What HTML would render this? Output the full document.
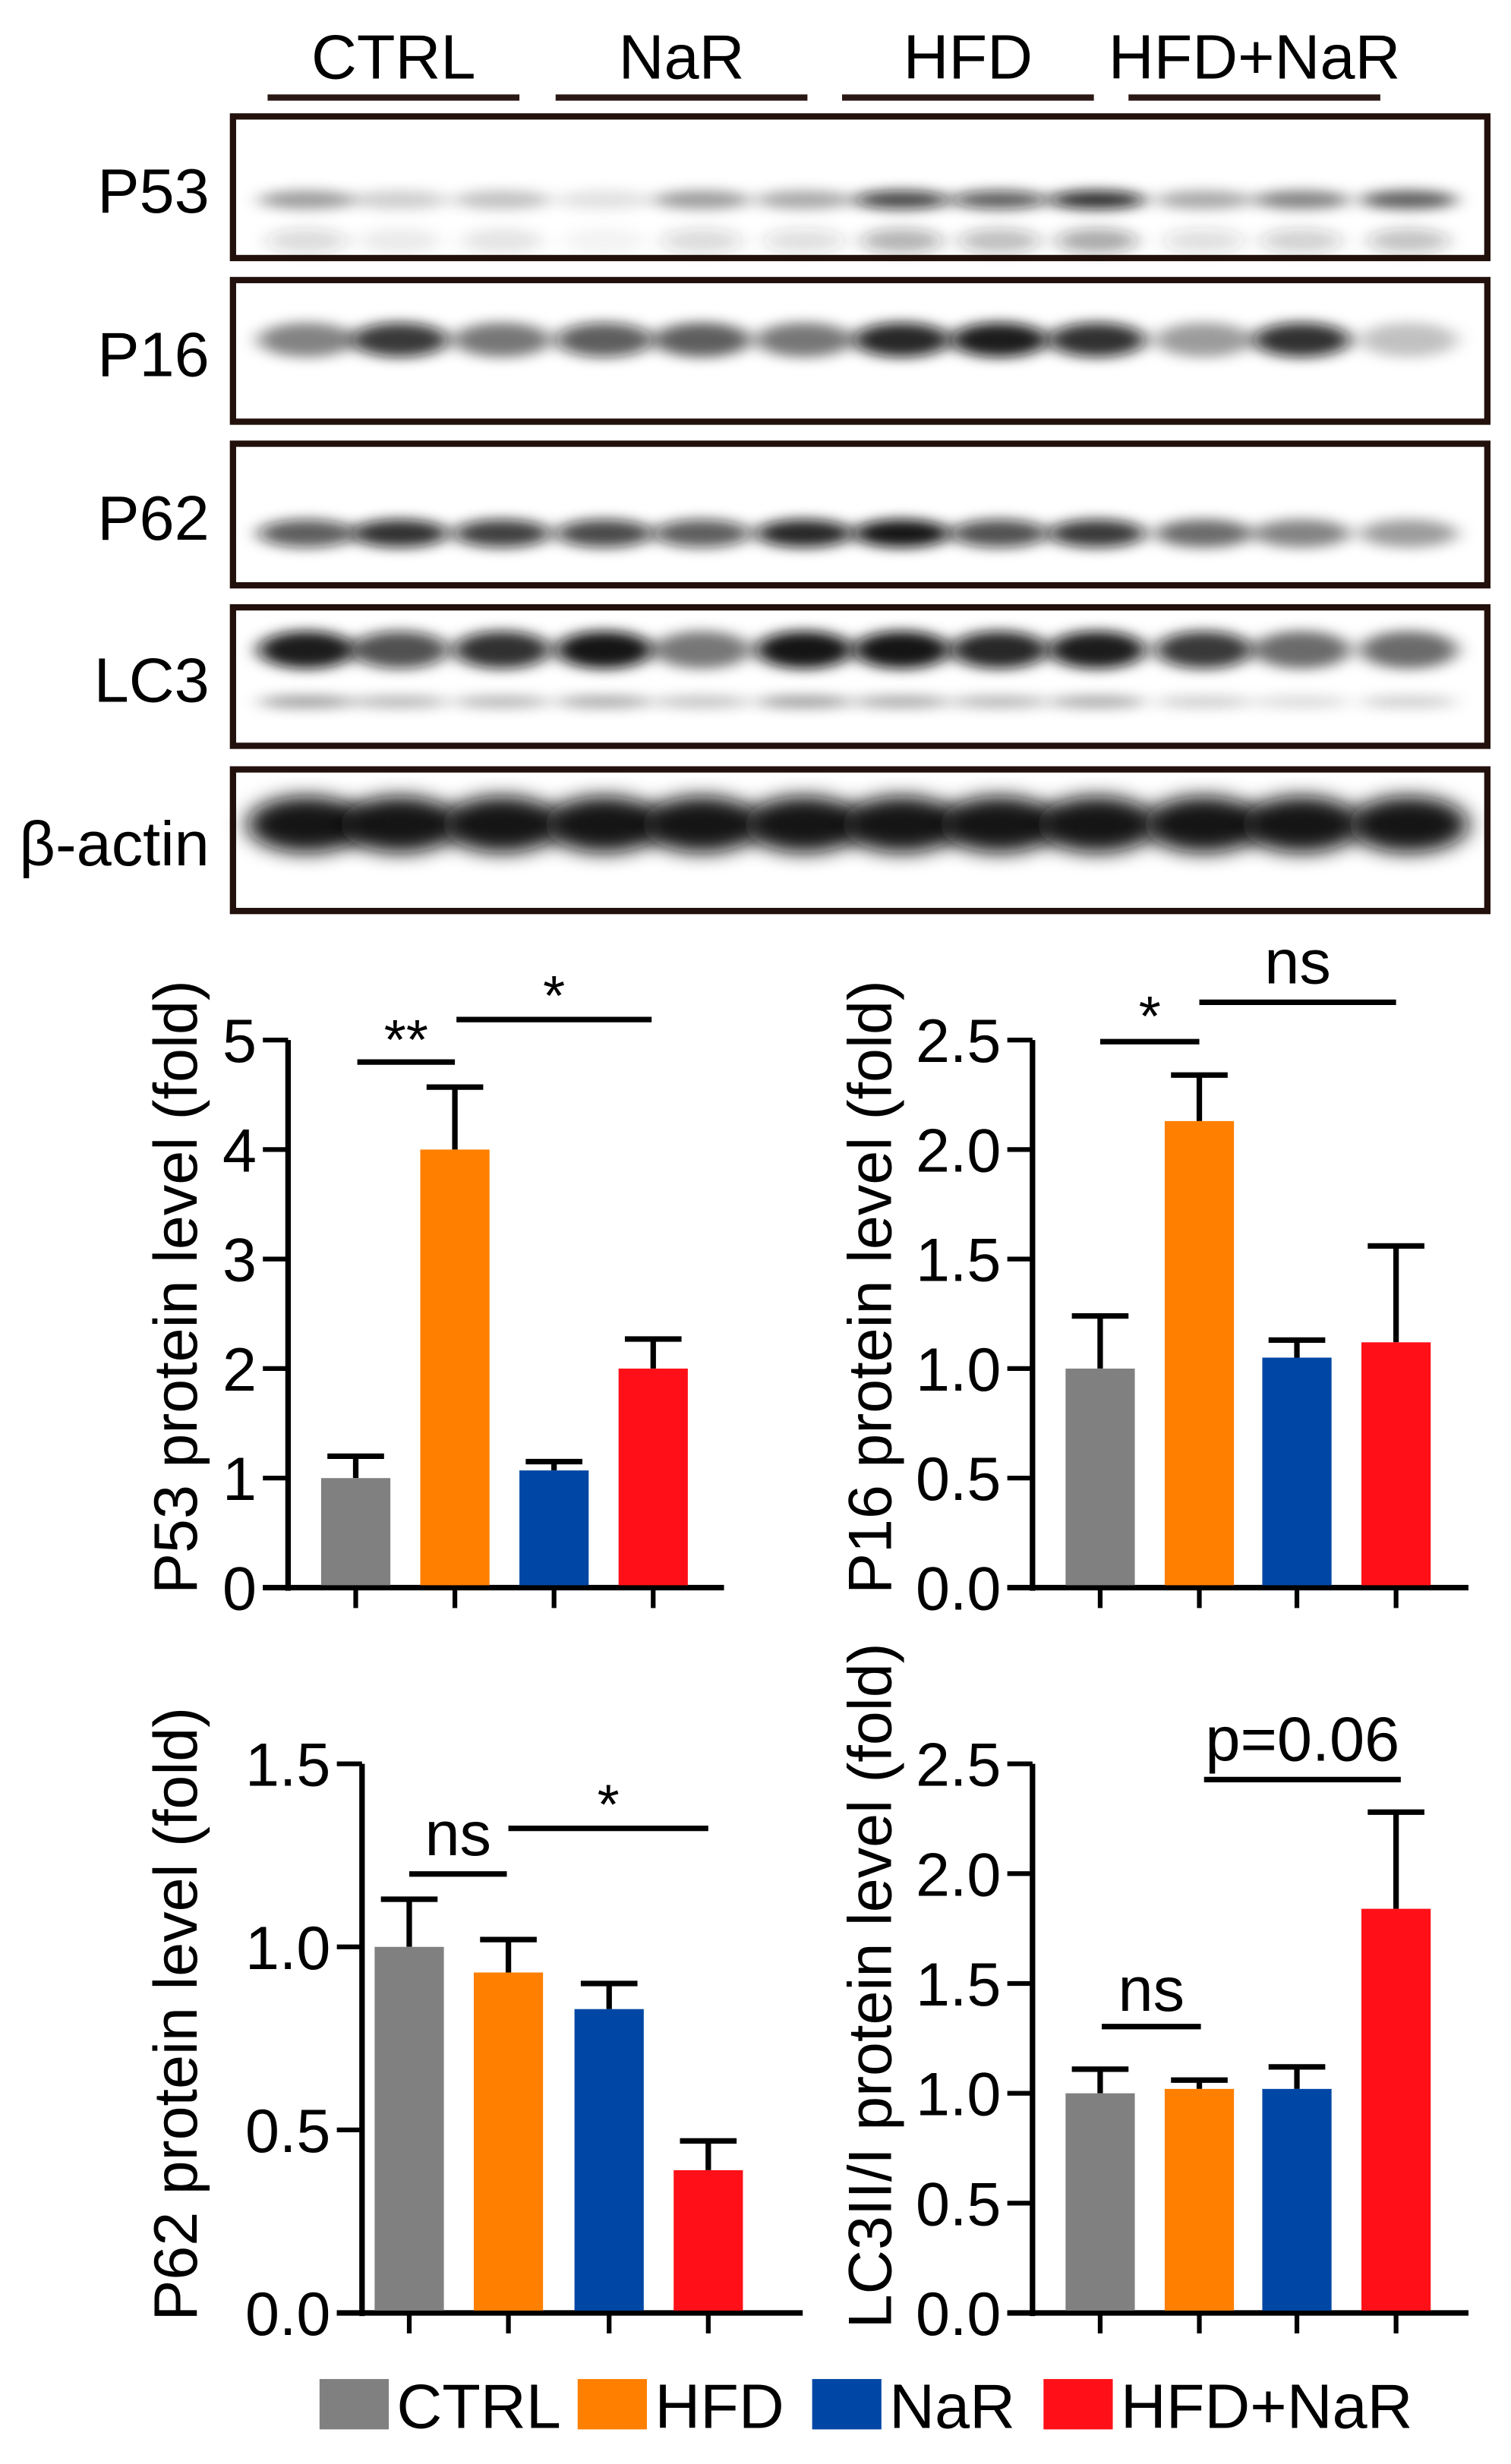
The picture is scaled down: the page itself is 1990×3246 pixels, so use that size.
<!DOCTYPE html>
<html><head><meta charset="utf-8"><style>
html,body{margin:0;padding:0;background:#fff;}
svg{display:block;font-family:"Liberation Sans",Arial,sans-serif;}
</style></head><body>
<svg id="fig" width="1990" height="3246" viewBox="0 0 960 1566" xmlns="http://www.w3.org/2000/svg">
<defs>
<filter id="blur" x="-50%" y="-100%" width="200%" height="300%"><feGaussianBlur stdDeviation="6 4"/></filter>
<filter id="blur2" x="-50%" y="-100%" width="200%" height="300%"><feGaussianBlur stdDeviation="7 6"/></filter>
</defs>
<g id="blots"></g>
<g id="charts"></g>
</svg>
<script>
// ---------- blot data ----------
var groupNames = ["CTRL","NaR","HFD","HFD+NaR"];
var blotNames = ["P53","P16","P62","LC3","β-actin"];
var p53Bands = [0.4,0.2,0.25,0.12,0.4,0.35,0.8,0.7,0.9,0.35,0.5,0.65];
var p16Bands = [0.5,0.85,0.55,0.7,0.65,0.55,0.92,0.97,0.88,0.4,0.88,0.25];
var p62Bands = [0.7,0.88,0.82,0.78,0.7,0.92,1.0,0.75,0.85,0.6,0.5,0.4];
var lc3UpperBands = [0.97,0.75,0.88,1.0,0.55,1.0,1.0,0.92,0.97,0.85,0.6,0.6];
var lc3LowerBands = [0.4,0.3,0.3,0.35,0.25,0.4,0.35,0.3,0.35,0.2,0.15,0.2];
var actinBands = [1,1,1,1,1,1,1,1,1,1,1,1];

// ---------- chart data ----------
var categories = ["CTRL","HFD","NaR","HFD+NaR"];
var colors = ["#808080","#ff7f00","#0047a5","#ff1018"];
var p53Values = [1.0,4.0,1.07,2.0];
var p53Errors = [0.2,0.57,0.08,0.27];
var p53Ticks = ["0","1","2","3","4","5"];
var p16Values = [1.0,2.13,1.05,1.12];
var p16Errors = [0.24,0.21,0.08,0.44];
var p16Ticks = ["0.0","0.5","1.0","1.5","2.0","2.5"];
var p62Values = [1.0,0.93,0.83,0.39];
var p62Errors = [0.13,0.09,0.07,0.08];
var p62Ticks = ["0.0","0.5","1.0","1.5"];
var lc3Values = [1.0,1.02,1.02,1.84];
var lc3Errors = [0.11,0.04,0.1,0.44];
var lc3Ticks = ["0.0","0.5","1.0","1.5","2.0","2.5"];

var NS="http://www.w3.org/2000/svg";
function mk(tag, attrs, parent){var e=document.createElementNS(NS,tag);for(var k in attrs)e.setAttribute(k,attrs[k]);parent.appendChild(e);return e;}

// ---------- blots ----------
var blots=document.getElementById('blots');
var laneX=[195,254,319,384,446,511,573,635,697,765,827,895];
var gx=[[170,330],[353,513],[535,695],[717,877]];
groupNames.forEach(function(n,i){
  var t=mk('text',{x:(gx[i][0]+gx[i][1])/2,y:50,'font-size':40,'text-anchor':'middle'},blots);t.textContent=n;
  
  
  var l=mk('line',{x1:gx[i][0],x2:gx[i][1],y1:62,y2:62,stroke:'#2a1814','stroke-width':4},blots);
  
  
});
var boxes=[[73,165],[177,269],[281,373],[385,475],[488,580]];
var bandSets=[[p53Bands],[p16Bands],[p62Bands],[lc3UpperBands,lc3LowerBands],[actinBands]];
var bandY=[[127],[216],[339],[413,446],[524]];
var bandRy=[[6],[11],[9],[12,4],[18]];
boxes.forEach(function(b,i){
  var g=mk('g',{},blots);
  
  
  mk('rect',{x:148,y:b[0]+1,width:797,height:b[1]-b[0]-2,fill:'#fff',stroke:'#22100c','stroke-width':4},g);
  bandSets[i].forEach(function(arr,j){
    arr.forEach(function(v,k){
      var e=mk('ellipse',{cx:laneX[k],cy:bandY[i][j],rx:(i==4?38:31),ry:bandRy[i][j],fill:'#0a0a0a','fill-opacity':v*0.97,filter:(i==4?'url(#blur2)':'url(#blur)')},g);
      
      
    });
  });
  if(i==0){p53Bands.forEach(function(v,k){mk('ellipse',{cx:laneX[k],cy:153,rx:26,ry:8,fill:'#222','fill-opacity':v*0.4,filter:'url(#blur)'},g);});}
  var t=mk('text',{x:133,y:(b[0]+b[1])/2+16,'font-size':40,'text-anchor':'end'},blots);t.textContent=blotNames[i];
  
  
});

// ---------- charts ----------
var charts=document.getElementById('charts');
function chart(o){
  var g=mk('g',{},charts);
  
  
  function y(v){return o.y0-(v/o.max)*(o.y0-o.ytop);}
  var step=o.max/(o.ticks.length-1);
  o.ticks.forEach(function(t,i){
    var yy=y(i*step);
    mk('line',{x1:o.ax-16,x2:o.ax,y1:yy,y2:yy,stroke:'#000','stroke-width':3},g);
    var tx=mk('text',{x:o.ax-20,y:yy+14,'font-size':39,'text-anchor':'end'},g);tx.textContent=t;
    
    
  });
  mk('line',{x1:o.ax,x2:o.ax,y1:o.ytop,y2:o.y0+2,stroke:'#000','stroke-width':3.5},g);
  mk('line',{x1:o.ax-16,x2:o.xend,y1:o.y0,y2:o.y0,stroke:'#000','stroke-width':3.5},g);
  o.values.forEach(function(v,i){
    var cx=o.cx[i];
    var top=y(v+o.errors[i]);
    mk('line',{x1:cx,x2:cx,y1:y(v),y2:top,stroke:'#000','stroke-width':3.5},g);
    mk('line',{x1:cx-18,x2:cx+18,y1:top,y2:top,stroke:'#000','stroke-width':3.5},g);
    var r=mk('rect',{x:cx-22,y:y(v),width:44,height:o.y0-1.5-y(v),fill:colors[i]},g);
    
    
    mk('line',{x1:cx,x2:cx,y1:o.y0,y2:o.y0+13,stroke:'#000','stroke-width':3},g);
  });
  var tt=mk('text',{x:0,y:0,'font-size':39,'text-anchor':'middle',transform:'translate('+o.tx+','+o.ty+') rotate(-90)'},g);tt.textContent=o.title;
  
  
  o.sig.forEach(function(s){
    mk('line',{x1:s[0],x2:s[1],y1:s[2],y2:s[2],stroke:'#000','stroke-width':3.5},g);
    var st=mk('text',{x:(s[0]+s[1])/2,y:s[2]+s[4],'font-size':s[5],'text-anchor':'middle'},g);st.textContent=s[3];
    
    
  });
}
chart({name:'p53-chart',ax:183,y0:1009,ytop:661,max:5,xend:460,cx:[226,289,352,415],values:p53Values,errors:p53Errors,ticks:p53Ticks,title:'P53 protein level (fold)',tx:125,ty:818,
  sig:[[227,289,675,'**',-2,36],[290,414,648,'*',-3,36]]});
chart({name:'p16-chart',ax:656,y0:1009,ytop:661,max:2.5,xend:933,cx:[699,762,824,887],values:p16Values,errors:p16Errors,ticks:p16Ticks,title:'P16 protein level (fold)',tx:566,ty:818,
  sig:[[699,762,662,'*',-4,36],[762,887,637,'ns',-12,40]]});
chart({name:'p62-chart',ax:230,y0:1470,ytop:1121,max:1.5,xend:510,cx:[260,323,387,450],values:p62Values,errors:p62Errors,ticks:p62Ticks,title:'P62 protein level (fold)',tx:125,ty:1280,
  sig:[[260,322,1191,'ns',-12,40],[323,450,1162,'*',-3,36]]});
chart({name:'lc3-chart',ax:656,y0:1470,ytop:1121,max:2.5,xend:933,cx:[699,762,824,887],values:lc3Values,errors:lc3Errors,ticks:lc3Ticks,title:'LC3II/I protein level (fold)',tx:566,ty:1262,
  sig:[[700,763,1288,'ns',-10,40],[765,890,1131,'p=0.06',-12,40]]});

// legend
var lg=mk('g',{},charts);


var lx=[203,367,516,663];
categories.forEach(function(c,i){
  var e=mk('g',{},lg);
  
  
  mk('rect',{x:lx[i],y:1512,width:44,height:32,fill:colors[i]},e);
  var t=mk('text',{x:lx[i]+49,y:1543,'font-size':40},e);t.textContent=c;
});
</script>
</body></html>
